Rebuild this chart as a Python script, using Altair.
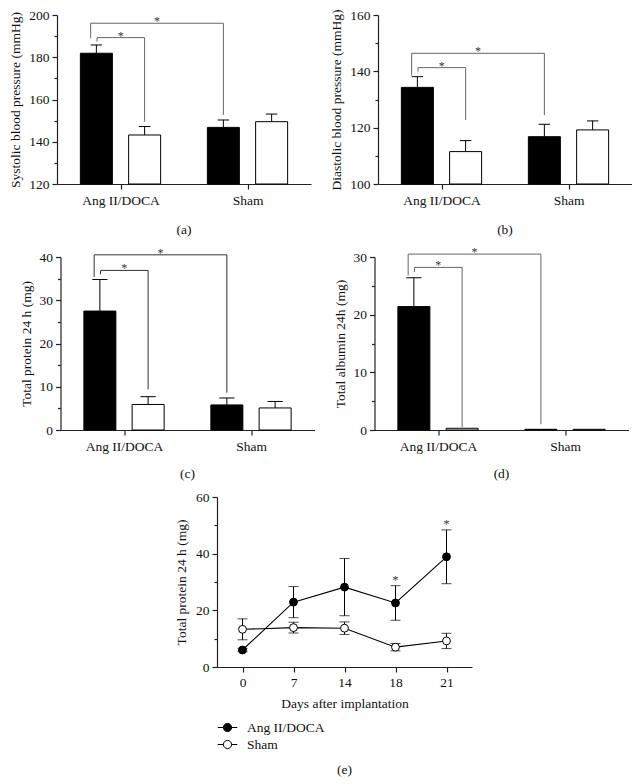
import json
import altair as alt
import pandas as pd

FONT = "Liberation Serif"
FS = 13.5

# ---------------- data ----------------
groups = ["Ang II/DOCA", "Sham"]
series = ["filled", "open"]            # bar order inside each group
series_fill = ["#000000", "#ffffff"]

sbp_mean = [181.9, 143.2, 146.8, 149.5]
sbp_sem = [3.9, 4.0, 3.5, 3.6]
dbp_mean = [134.3, 111.5, 116.8, 119.2]
dbp_sem = [3.8, 3.9, 4.4, 3.2]
prot_mean = [27.5, 5.9, 5.8, 5.1]
prot_sem = [7.3, 1.8, 1.6, 1.5]
alb_mean = [21.4, 0.3, 0.12, 0.12]
alb_sem = [5.0, 0.0, 0.0, 0.0]

# significance brackets: (from bar, to bar, bracket level, left leg end, right leg end)
sbp_sig = [(0, 1, 189.3, 187.4, 149.5), (0, 2, 196.1, 189.0, 152.7)]
dbp_sig = [(0, 1, 141.3, 139.9, 122.7), (0, 2, 146.4, 138.5, 124.5)]
prot_sig = [(0, 1, 36.9, 36.0, 9.4), (0, 2, 40.5, 35.4, 8.6)]
alb_sig = [(0, 1, 28.2, 27.4, 0.5), (0, 2, 30.5, 26.8, 1.0)]

days = ["0", "7", "14", "18", "21"]
ang_mean = [6.0, 22.9, 28.2, 22.6, 38.9]
ang_sem = [0.6, 5.5, 10.1, 6.1, 9.5]
sham_mean = [13.3, 13.9, 13.7, 7.0, 9.2]
sham_sem = [3.7, 1.9, 2.2, 1.3, 2.7]
star_days = ["18", "21"]

# ---------------- layout constants ----------------
BAR_OFF = 0.19
BAR_HALF = 0.126
INK = "#111111"


def bar_panel(means, sems, sig, domain, major, minor, ytitle, label, line_color,
              height, cap_half, title_offset):
    lo, hi = domain
    xs = [g + (-BAR_OFF if k == 0 else BAR_OFF) for g in range(len(groups)) for k in range(2)]
    bars = pd.DataFrame({
        "xc": xs,
        "x1": [x - BAR_HALF for x in xs],
        "x2": [x + BAR_HALF for x in xs],
        "c1": [x - cap_half for x in xs],
        "c2": [x + cap_half for x in xs],
        "mean": means,
        "base": [lo] * len(means),
        "top": [m + s for m, s in zip(means, sems)],
        "sem": sems,
        "fillc": series_fill * len(groups),
    })
    errs = bars[bars["sem"] > 0]

    segs, stars = [], []
    for j, (a, b, lev, lb, rb) in enumerate(sig):
        lx = xs[a] + (0.005 if j == 0 else -0.045)
        rx = xs[b]
        segs += [
            {"x": lx, "x2": rx, "y": lev, "y2": lev},
            {"x": lx, "x2": lx, "y": lev, "y2": lb},
            {"x": rx, "x2": rx, "y": lev, "y2": rb},
        ]
        stars.append({"x": (lx + rx) / 2, "y": lev})
    segs = pd.DataFrame(segs)
    stars = pd.DataFrame(stars)

    xscale = alt.Scale(domain=[-0.5, len(groups) - 0.5], nice=False, zero=False)
    yscale = alt.Scale(domain=[lo, hi], nice=False, zero=False)
    xaxis = alt.Axis(
        values=list(range(len(groups))),
        labelExpr=json.dumps(groups) + "[datum.value]",
        title=None, tickSize=5, labelPadding=4, grid=False, orient="bottom",
    )
    yaxis = alt.Axis(values=major, title=ytitle, tickSize=5, labelPadding=3,
                     titlePadding=6, grid=False, orient="left")
    minor_axis = alt.Axis(values=minor, labels=False, domain=False, tickSize=3,
                          title=None, grid=False, orient="left")

    bar_layer = alt.Chart(bars).mark_rect(stroke="#000", strokeWidth=1).encode(
        x=alt.X("x1:Q", scale=xscale, axis=xaxis),
        x2="x2:Q",
        y=alt.Y("mean:Q", scale=yscale, axis=yaxis),
        y2="base:Q",
        fill=alt.Fill("fillc:N", scale=None),
    )
    err_line = alt.Chart(errs).mark_rule(color="#000", strokeWidth=1).encode(
        x=alt.X("xc:Q", scale=xscale, axis=None),
        y=alt.Y("mean:Q", scale=yscale, axis=None),
        y2="top:Q",
    )
    err_cap = alt.Chart(errs).mark_rule(color="#000", strokeWidth=1).encode(
        x=alt.X("c1:Q", scale=xscale, axis=None),
        x2="c2:Q",
        y=alt.Y("top:Q", scale=yscale, axis=None),
    )
    brackets = alt.Chart(segs).mark_rule(color=line_color, strokeWidth=1).encode(
        x=alt.X("x:Q", scale=xscale, axis=None),
        x2="x2:Q",
        y=alt.Y("y:Q", scale=yscale, axis=None),
        y2="y2:Q",
    )
    star_layer = alt.Chart(stars).mark_text(
        text="*", font=FONT, fontSize=12, fill="#333333", baseline="alphabetic", dy=2
    ).encode(
        x=alt.X("x:Q", scale=xscale, axis=None),
        y=alt.Y("y:Q", scale=yscale, axis=None),
    )
    minor_layer = alt.Chart(pd.DataFrame({"v": minor})).mark_rule(strokeOpacity=0).encode(
        y=alt.Y("v:Q", scale=yscale, axis=minor_axis),
    )
    return alt.layer(
        bar_layer, err_line, err_cap, brackets, star_layer, minor_layer
    ).resolve_axis(x="independent", y="independent").properties(
        width=254, height=height,
        title=alt.TitleParams(label, orient="bottom", anchor="middle", offset=title_offset,
                              font=FONT, fontSize=FS, fontWeight="normal", color=INK),
    )


pa = bar_panel(sbp_mean, sbp_sem, sbp_sig, [120, 200], [120, 140, 160, 180, 200],
               [130, 150, 170, 190], "Systolic blood pressure (mmHg)", "(a)", "#666666",
               169, 0.045, 16)
pb = bar_panel(dbp_mean, dbp_sem, dbp_sig, [100, 160], [100, 120, 140, 160],
               [110, 130, 150], "Diastolic blood pressure (mmHg)", "(b)", "#666666",
               169, 0.045, 16)
pc = bar_panel(prot_mean, prot_sem, prot_sig, [0, 40], [0, 10, 20, 30, 40],
               [5, 15, 25, 35], "Total protein 24 h (mg)", "(c)", "#333333",
               173, 0.06, 14)
pd_ = bar_panel(alb_mean, alb_sem, alb_sig, [0, 30], [0, 10, 20, 30],
                [5, 15, 25], "Total albumin  24h (mg)", "(d)", "#666666",
                173, 0.06, 14)

# ---------------- panel (e) ----------------
dfe = pd.DataFrame({
    "day": days * 2,
    "series": [groups[0]] * len(days) + [groups[1]] * len(days),
    "mean": ang_mean + sham_mean,
    "sem": ang_sem + sham_sem,
})
dfe["lo"] = dfe["mean"] - dfe["sem"]
dfe["hi"] = dfe["mean"] + dfe["sem"]
stars_e = dfe[(dfe["series"] == groups[0]) & (dfe["day"].isin(star_days))].copy()
stars_e["sy"] = stars_e["hi"] + 2.3

xs_e = alt.Scale(type="point", padding=0.5)
ex = alt.X("day:O", sort=days, scale=xs_e,
           axis=alt.Axis(title="Days after implantation", labelAngle=0, tickSize=5,
                         labelPadding=3, titlePadding=8, grid=False, orient="bottom"))
exn = alt.X("day:O", sort=days, scale=xs_e, axis=None)
eys = alt.Scale(domain=[0, 60], nice=False, zero=False)

LEG_PATH = ("M-1,0H-0.42M0.42,0H1M-0.42,0A0.42,0.42,0,1,1,0.42,0"
            "A0.42,0.42,0,1,1,-0.42,0Z")

e_line = alt.Chart(dfe).mark_line(color="#000", strokeWidth=1.1).encode(
    x=ex,
    y=alt.Y("mean:Q", scale=eys,
            axis=alt.Axis(values=[0, 20, 40, 60], title="Total protein 24 h (mg)",
                          tickSize=5, labelPadding=3, titlePadding=7, grid=False,
                          orient="left")),
    detail="series:N",
)
e_err = alt.Chart(dfe).mark_rule(color="#000", strokeWidth=1).encode(
    x=exn, y=alt.Y("lo:Q", scale=eys, axis=None), y2="hi:Q")
e_cap_lo = alt.Chart(dfe).mark_tick(color="#000", size=10, thickness=1).encode(
    x=exn, y=alt.Y("lo:Q", scale=eys, axis=None))
e_cap_hi = alt.Chart(dfe).mark_tick(color="#000", size=10, thickness=1).encode(
    x=exn, y=alt.Y("hi:Q", scale=eys, axis=None))
e_pts = alt.Chart(dfe).mark_point(shape="circle", size=62, stroke="#000", strokeWidth=1,
                                  opacity=1, fillOpacity=1).encode(
    x=exn,
    y=alt.Y("mean:Q", scale=eys, axis=None),
    fill=alt.Fill("series:N", sort=groups,
                  scale=alt.Scale(domain=groups, range=series_fill),
                  legend=alt.Legend(title=None, orient="bottom", direction="vertical",
                                    symbolType=LEG_PATH, symbolSize=380,
                                    symbolStrokeColor="#000", symbolStrokeWidth=1,
                                    labelFont=FONT, labelFontSize=FS, labelColor=INK,
                                    labelOffset=9, rowPadding=-1, offset=7)),
)
e_star = alt.Chart(stars_e).mark_text(text="*", font=FONT, fontSize=12, fill="#333333",
                                      baseline="alphabetic", dy=5).encode(
    x=exn, y=alt.Y("sy:Q", scale=eys, axis=None))
e_minor = alt.Chart(pd.DataFrame({"v": [10, 30, 50]})).mark_rule(strokeOpacity=0).encode(
    y=alt.Y("v:Q", scale=eys,
            axis=alt.Axis(values=[10, 30, 50], labels=False, domain=False, tickSize=3,
                          title=None, grid=False, orient="left")))

pe = alt.layer(e_line, e_err, e_cap_lo, e_cap_hi, e_pts, e_star, e_minor).resolve_axis(
    x="independent", y="independent").properties(
    width=255, height=170,
    title=alt.TitleParams("(e)", orient="bottom", anchor="middle", offset=12,
                          font=FONT, fontSize=FS, fontWeight="normal", color=INK),
)

chart = alt.vconcat(
    alt.hconcat(pa, pb, spacing=18),
    alt.hconcat(pc, pd_, spacing=18),
    pe,
    spacing=10,
    center=True,
).resolve_scale(fill="independent").resolve_legend(fill="independent").properties(
    padding={"left": 0, "top": 0, "right": 0, "bottom": 0},
).configure_axis(
    labelFont=FONT, labelFontSize=FS, labelColor=INK,
    titleFont=FONT, titleFontSize=FS, titleFontWeight="normal", titleColor=INK,
    domainColor="#222", tickColor="#222", domainWidth=1.2, tickWidth=1.2,
).configure_view(stroke=None)

chart.save("out.html", embed_options={"renderer": "svg", "actions": False})
